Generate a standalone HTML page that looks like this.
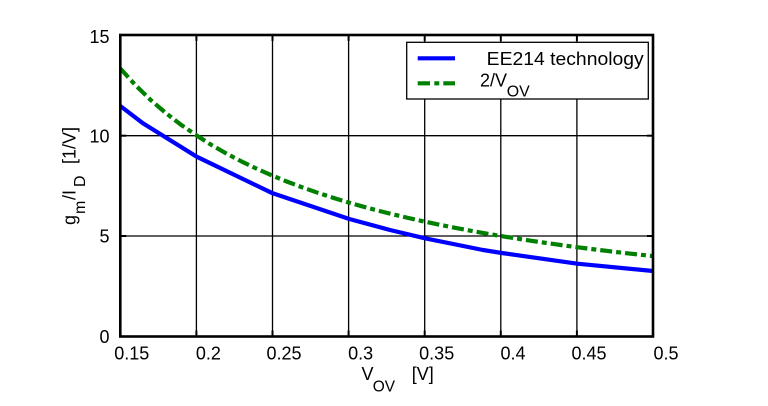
<!DOCTYPE html>
<html><head><meta charset="utf-8"><style>
html,body{margin:0;padding:0;background:#fff;}
svg{display:block;}
text{font-family:"Liberation Sans",Arial,sans-serif;fill:#000;}
</style></head><body>
<svg width="768" height="406" viewBox="0 0 768 406" xmlns="http://www.w3.org/2000/svg">
<rect width="768" height="406" fill="#fff"/>
<defs><clipPath id="c"><rect x="120.3" y="35" width="532.7" height="301.5"/></clipPath></defs>
<!-- grid -->
<g stroke="#000" stroke-width="1.3">
<line x1="196.4" y1="35" x2="196.4" y2="336.5"/>
<line x1="272.5" y1="35" x2="272.5" y2="336.5"/>
<line x1="348.6" y1="35" x2="348.6" y2="336.5"/>
<line x1="424.7" y1="35" x2="424.7" y2="336.5"/>
<line x1="500.8" y1="35" x2="500.8" y2="336.5"/>
<line x1="576.9" y1="35" x2="576.9" y2="336.5"/>
<line x1="120.3" y1="236" x2="653" y2="236"/>
<line x1="120.3" y1="135.7" x2="653" y2="135.7"/>
</g>
<!-- ticks -->
<g stroke="#000" stroke-width="2">
<line x1="196.4" y1="35" x2="196.4" y2="41"/><line x1="196.4" y1="336.5" x2="196.4" y2="330.5"/>
<line x1="272.5" y1="35" x2="272.5" y2="41"/><line x1="272.5" y1="336.5" x2="272.5" y2="330.5"/>
<line x1="348.6" y1="35" x2="348.6" y2="41"/><line x1="348.6" y1="336.5" x2="348.6" y2="330.5"/>
<line x1="424.7" y1="35" x2="424.7" y2="41"/><line x1="424.7" y1="336.5" x2="424.7" y2="330.5"/>
<line x1="500.8" y1="35" x2="500.8" y2="41"/><line x1="500.8" y1="336.5" x2="500.8" y2="330.5"/>
<line x1="576.9" y1="35" x2="576.9" y2="41"/><line x1="576.9" y1="336.5" x2="576.9" y2="330.5"/>
<line x1="120.3" y1="236" x2="126.3" y2="236"/><line x1="653" y1="236" x2="647" y2="236"/>
<line x1="120.3" y1="135.7" x2="126.3" y2="135.7"/><line x1="653" y1="135.7" x2="647" y2="135.7"/>
</g>
<g clip-path="url(#c)" fill="none">
<polyline stroke="#0000ff" stroke-width="4.2" stroke-linejoin="round" points="120.3,106 143,123.3 196.7,156.7 272.7,193.3 349.3,219 390,230 425,238.3 483,250 501.7,253 577.3,263.7 653,271"/>
<polyline stroke="#008000" stroke-width="4.2" stroke-dasharray="12 4 5 4" points="120.3,68.5 135.5,85.25 150.7,100.03 166,113.17 181.2,124.92 196.7,135.5 211.6,145.07 226.8,153.77 242.1,161.72 257.3,169 272.5,175.7 287.7,181.88 302.9,187.61 318.2,192.93 333.4,197.88 348.6,202.5 363.8,206.82 379,210.87 394.3,214.68 409.5,218.26 424.7,221.64 439.9,224.83 455.1,227.85 470.4,230.71 485.6,233.42 500.8,236 516,238.45 531.2,240.79 546.5,243.01 561.7,245.14 576.9,247.17 592.1,249.11 607.3,250.97 622.6,252.75 637.8,254.46 653,256.1"/>
</g>
<!-- frame -->
<rect x="120.3" y="35" width="532.7" height="301.5" fill="none" stroke="#000" stroke-width="2.6"/>
<!-- legend -->
<rect x="406.7" y="42.3" width="241.6" height="56.7" fill="#fff" stroke="#000" stroke-width="1.3"/>
<line x1="417.7" y1="58.3" x2="455" y2="58.3" stroke="#0000ff" stroke-width="4.2"/>
<line x1="417.7" y1="83.3" x2="455" y2="83.3" stroke="#008000" stroke-width="4.2" stroke-dasharray="12.3 4.3 5 4"/>
<text x="486.7" y="65" font-size="18.5" textLength="157" lengthAdjust="spacingAndGlyphs">EE214 technology</text>
<text x="480" y="86.7" font-size="18">2/V</text>
<text x="506.7" y="96.7" font-size="16" textLength="23" lengthAdjust="spacingAndGlyphs">OV</text>
<!-- y tick labels -->
<g font-size="18" text-anchor="end">
<text x="109.5" y="342.8">0</text>
<text x="109.5" y="242.3">5</text>
<text x="109.5" y="142.3">10</text>
<text x="109.5" y="43">15</text>
</g>
<!-- x tick labels -->
<g font-size="18" text-anchor="middle">
<text x="131.8" y="359.3">0.15</text>
<text x="208.4" y="359.3">0.2</text>
<text x="284" y="359.3">0.25</text>
<text x="360.6" y="359.3">0.3</text>
<text x="436.7" y="359.3">0.35</text>
<text x="513" y="359.3">0.4</text>
<text x="589" y="359.3">0.45</text>
<text x="666" y="359.3">0.5</text>
</g>
<!-- x title -->
<text x="361.5" y="380" font-size="18">V</text>
<text x="372.7" y="391.7" font-size="16" textLength="22.3" lengthAdjust="spacingAndGlyphs">OV</text>
<text x="411.7" y="380" font-size="18">[V]</text>
<!-- y title -->
<g transform="translate(75.5,225) rotate(-90)">
<text x="0" y="0" font-size="18">g</text>
<text x="11" y="9.5" font-size="16">m</text>
<text x="25" y="0" font-size="18">/I</text>
<text x="38" y="9.5" font-size="16">D</text>
<text x="61" y="0" font-size="18">[1/V]</text>
</g>
</svg>
</body></html>
